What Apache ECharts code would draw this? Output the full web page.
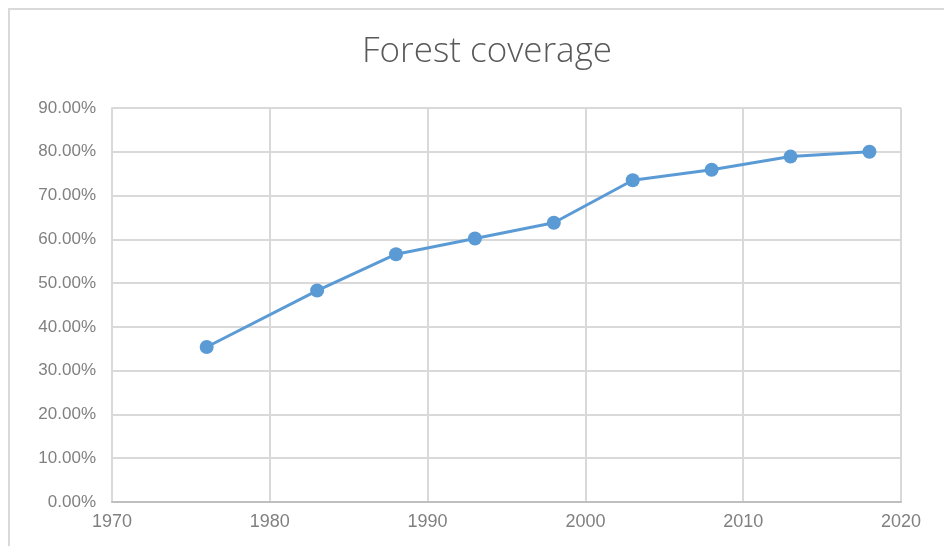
<!DOCTYPE html>
<html>
<head>
<meta charset="utf-8">
<script src="https://cdn.jsdelivr.net/npm/echarts@6/dist/echarts.min.js"></script>
<style>
  html, body { margin: 0; padding: 0; background: #ffffff; }
  #chart { width: 944px; height: 546px; }
</style>
</head>
<body>
<div id="chart"></div>
<script>
// Survey years and forest coverage share (percent)
const years = [1976, 1983, 1988, 1993, 1998, 2003, 2008, 2013, 2018];
const coverage = [35.4, 48.3, 56.6, 60.2, 63.8, 73.5, 75.9, 78.9, 80.0];
const titleText = 'Forest coverage';

const points = years.map((y, i) => [y, coverage[i]]);

const chart = echarts.init(document.getElementById('chart'), null, { renderer: 'canvas' });

chart.setOption({
  backgroundColor: '#ffffff',
  animation: false,
  graphic: [{
    type: 'rect',
    shape: { x: 9, y: 9, width: 960, height: 560 },
    style: { fill: 'none', stroke: '#d9d9d9', lineWidth: 2 },
    silent: true
  }],
  title: {
    text: titleText,
    left: 482,
    textAlign: 'center',
    top: 30,
    textStyle: {
      fontFamily: 'Open Sans',
      fontWeight: 300,
      fontSize: 35,
      color: '#595959'
    }
  },
  grid: { left: 112, right: 43, top: 108, bottom: 44 },
  xAxis: {
    type: 'value',
    min: 1970,
    max: 2020,
    interval: 10,
    axisLine: { show: true, lineStyle: { color: '#bfbfbf', width: 2 } },
    axisTick: { show: false },
    splitLine: { show: true, lineStyle: { color: '#d9d9d9', width: 2 } },
    axisLabel: {
      margin: 11,
      fontFamily: 'Liberation Sans',
      fontSize: 18,
      color: '#808080',
      formatter: v => String(v)
    }
  },
  yAxis: {
    type: 'value',
    min: 0,
    max: 90,
    interval: 10,
    axisLine: { show: true, lineStyle: { color: '#d9d9d9', width: 2 } },
    axisTick: { show: false },
    splitLine: { show: true, lineStyle: { color: '#d9d9d9', width: 2 } },
    axisLabel: {
      margin: 16,
      fontFamily: 'Liberation Sans',
      fontSize: 17,
      color: '#808080',
      formatter: v => v.toFixed(2) + '%'
    }
  },
  series: [{
    type: 'line',
    data: points,
    symbol: 'circle',
    symbolSize: 14,
    itemStyle: { color: '#5b9bd5' },
    lineStyle: { color: '#5b9bd5', width: 3 }
  }]
});
</script>
</body>
</html>
